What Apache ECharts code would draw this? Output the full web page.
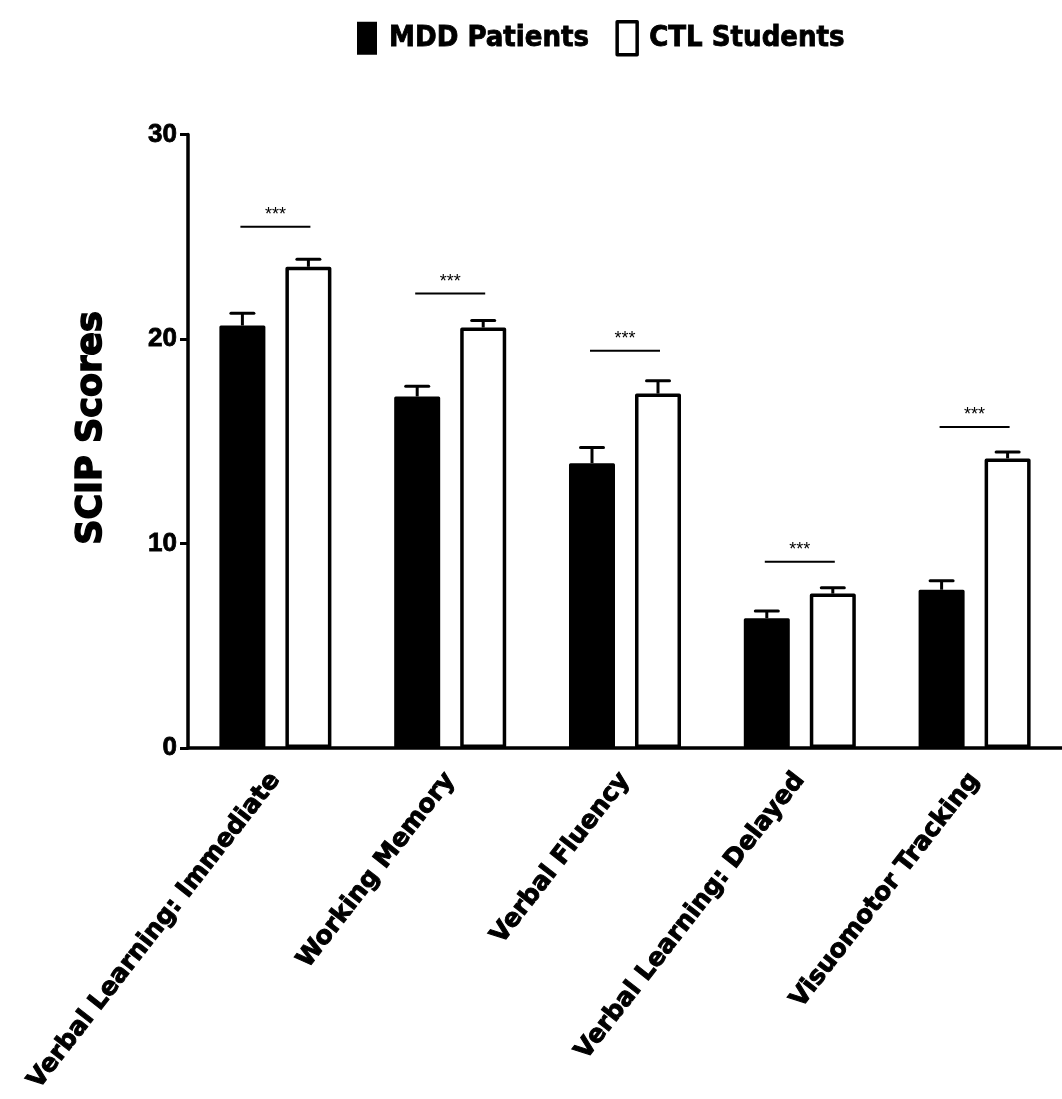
<!DOCTYPE html>
<html>
<head>
<meta charset="utf-8">
<script src="https://cdn.jsdelivr.net/npm/echarts@6/dist/echarts.min.js"></script>
<style>
  html, body { margin: 0; padding: 0; background: #fff; }
  #main { width: 1062px; height: 1099px; }
</style>
</head>
<body>
<div id="main"></div>
<script>
// 数据
var categories = ['Verbal Learning: Immediate', 'Working Memory', 'Verbal Fluency', 'Verbal Learning: Delayed', 'Visuomotor Tracking'];
var mddMean = [20.66, 17.19, 13.93, 6.35, 7.74];
var mddSem = [0.6, 0.5, 0.77, 0.35, 0.44];
var ctlMean = [23.53, 20.56, 17.33, 7.55, 14.16];
var ctlSem = [0.37, 0.34, 0.63, 0.29, 0.31];
var sigLevel = [25.49, 22.22, 19.43, 9.11, 15.70];
var sigText = ['***', '***', '***', '***', '***'];
var yTicks = [0, 10, 20, 30];

var BAR_W = 46;
var BAR_GAP = 20;
var OFFSET = (BAR_W + BAR_GAP) / 2;

var chart = echarts.init(document.getElementById('main'));

// 误差线
function errorItem(sign) {
    return function (params, api) {
        var idx = api.value(0);
        var top = api.coord([idx, api.value(2)]);
        var base = api.coord([idx, api.value(1)]);
        var x = top[0] + sign * OFFSET;
        return {
            type: 'group',
            children: [
                { type: 'line', shape: { x1: x, y1: base[1], x2: x, y2: top[1] }, style: { stroke: '#000', lineWidth: 3 } },
                { type: 'line', shape: { x1: x - 11.5, y1: top[1], x2: x + 11.5, y2: top[1] }, style: { stroke: '#000', lineWidth: 3, lineCap: 'round' } }
            ]
        };
    };
}

function errData(mean, sem) {
    return mean.map(function (m, i) { return [i, m, +(m + sem[i]).toFixed(2)]; });
}

var option = {
    backgroundColor: '#ffffff',
    animation: false,
    legend: {
        left: 352,
        top: 15,
        itemWidth: 20,
        itemHeight: 33,
        itemGap: 26,
        icon: 'rect',
        textStyle: {
            fontFamily: '"DejaVu Sans Condensed", "DejaVu Sans"',
            fontWeight: 'bold',
            fontSize: 29,
            color: '#000',
            textBorderColor: '#000',
            textBorderWidth: 0.8,
            padding: [0, 0, 0, 7]
        },
        data: [
            { name: 'MDD Patients', itemStyle: { color: '#000', borderWidth: 0 } },
            { name: 'CTL Students', itemStyle: { color: '#fff', borderColor: '#000', borderWidth: 3.5 } }
        ]
    },
    grid: { left: 188, right: 0, top: 134.5, bottom: 351, containLabel: false },
    xAxis: {
        type: 'category',
        data: categories,
        axisLine: { lineStyle: { color: '#000', width: 3.5 } },
        axisTick: { alignWithLabel: true, length: 11, lineStyle: { color: '#000', width: 3 } },
        axisLabel: {
            rotate: 52,
            margin: 28,
            interval: 0,
            color: '#000',
            fontFamily: '"DejaVu Sans"',
            fontWeight: 'bold',
            fontSize: 25,
            textBorderColor: '#000',
            textBorderWidth: 1
        }
    },
    yAxis: {
        type: 'value',
        min: yTicks[0],
        max: yTicks[yTicks.length - 1],
        interval: 10,
        axisLine: { show: true, lineStyle: { color: '#000', width: 3.5 } },
        axisTick: { show: true, length: 8, lineStyle: { color: '#000', width: 3 } },
        splitLine: { show: false },
        axisLabel: {
            margin: 11,
            color: '#000',
            fontFamily: '"Liberation Sans", Arial',
            fontWeight: 'bold',
            fontSize: 26,
            textBorderColor: '#000',
            textBorderWidth: 0.8
        }
    },
    graphic: [{
        type: 'text',
        x: 92,
        y: 428,
        rotation: Math.PI / 2,
        style: {
            text: 'SCIP Scores',
            align: 'center',
            verticalAlign: 'middle',
            fill: '#000',
            stroke: '#000',
            lineWidth: 1.5,
            font: 'bold 35px "DejaVu Sans"'
        }
    }],
    series: [
        {
            name: 'MDD Patients',
            type: 'bar',
            data: mddMean,
            barWidth: BAR_W,
            barGap: (BAR_GAP / BAR_W * 100).toFixed(1) + '%',
            itemStyle: { color: '#000', borderColor: '#000', borderWidth: 3, borderJoin: 'round' },
            z: 3
        },
        {
            name: 'CTL Students',
            type: 'bar',
            data: ctlMean,
            barWidth: BAR_W,
            itemStyle: { color: '#fff', borderColor: '#000', borderWidth: 3.5, borderJoin: 'round' },
            z: 3
        },
        {
            type: 'custom',
            renderItem: errorItem(-1),
            data: errData(mddMean, mddSem),
            z: 2,
            silent: true
        },
        {
            type: 'custom',
            renderItem: errorItem(1),
            data: errData(ctlMean, ctlSem),
            z: 2,
            silent: true
        },
        {
            // 显著性标记
            type: 'custom',
            renderItem: function (params, api) {
                var p = api.coord([api.value(0), api.value(1)]);
                return {
                    type: 'group',
                    children: [
                        { type: 'line', shape: { x1: p[0] - 35, y1: p[1], x2: p[0] + 35, y2: p[1] }, style: { stroke: '#000', lineWidth: 2 } },
                        { type: 'text', x: p[0], y: p[1] - 3, style: { text: sigText[params.dataIndex], align: 'center', verticalAlign: 'bottom', fill: '#000', font: '18px "Liberation Sans", Arial' } }
                    ]
                };
            },
            data: sigLevel.map(function (v, i) { return [i, v]; }),
            z: 4,
            silent: true
        }
    ]
};

chart.setOption(option);
</script>
</body>
</html>
